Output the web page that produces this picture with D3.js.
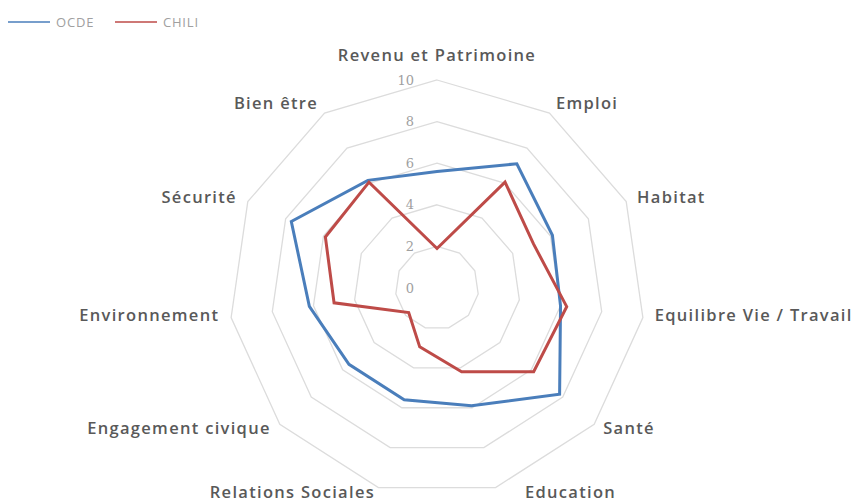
<!DOCTYPE html>
<html><head><meta charset="utf-8">
<script src="https://d3js.org/d3.v7.min.js"></script>
<style>
body{margin:0;background:#fff;}
svg{display:block;}
</style></head>
<body>
<svg id="chart" width="857" height="503"></svg>
<script>
const categories = ["Revenu et Patrimoine","Emploi","Habitat","Equilibre Vie / Travail","Santé","Education","Relations Sociales","Engagement civique","Environnement","Sécurité","Bien être"];
const ocde  = [5.6, 7.1, 6.1, 6.0, 7.8, 5.9, 5.6, 5.6, 6.2, 7.7, 6.15];
const chili = [1.9, 6.05, 5.1, 6.3, 6.15, 4.2, 2.95, 1.8, 5.0, 5.9, 6.05];
const seriesNames = ["OCDE","CHILI"];
const seriesColors = ["#4a7ebb","#be4b48"];
const ticks = [0,2,4,6,8,10];

const svg = d3.select("#chart");
const cx = 437, cy = 288, R = 208;
const n = categories.length;
const r = d3.scaleLinear().domain([0,10]).range([0,R]);
const ang = d3.scalePoint().domain(d3.range(n+1)).range([0, 2*Math.PI]);
const a = i => ang(i);

const g = svg.append("g").attr("transform",`translate(${cx},${cy})`);

// grid rings
const ring = d3.lineRadial().angle((d,i)=>a(i)).radius(d=>r(d)).curve(d3.curveLinearClosed);
ticks.filter(t=>t>0).forEach(t=>{
  g.append("path").attr("d", ring(categories.map(()=>t)))
   .attr("fill","none").attr("stroke","#dcdcdc").attr("stroke-width",1.3);
});

// tick labels
g.selectAll("text.tick").data(ticks).join("text")
  .attr("class","tick")
  .attr("x",-23).attr("y",d=>-r(d))
  .attr("text-anchor","end").attr("dominant-baseline","central")
  .attr("font-family","DejaVu Serif, serif").attr("font-size",13)
  .attr("fill","#a0a0a0").text(d=>d);

// series
const line = d3.lineRadial().angle((d,i)=>a(i)).radius(d=>r(d)).curve(d3.curveLinearClosed);
[ocde, chili].forEach((s,k)=>{
  g.append("path").attr("d", line(s)).attr("fill","none")
   .attr("stroke",seriesColors[k]).attr("stroke-width",3).attr("stroke-linejoin","miter");
});

// category labels
const LR = R + 12;
g.selectAll("text.cat").data(categories).join("text")
  .attr("class","cat")
  .each(function(d,i){
    const t = a(i), s = Math.sin(t), c = Math.cos(t);
    let x = LR*s, y = -LR*c;
    let anchor = Math.abs(s)<0.05 ? "middle" : (s>0 ? "start":"end");
    if (i===0) y -= 14;
    if (c<0) y -= 5;
    if (c<-0.9) y -= 3;
    if (c<-0.9 && s>0) x += 26;
    d3.select(this).attr("x",x).attr("y",y).attr("text-anchor",anchor);
  })
  .attr("dominant-baseline","central")
  .attr("font-family","Open Sans, sans-serif").attr("font-weight",600).attr("font-size",16.5)
  .attr("letter-spacing","1.3px")
  .attr("fill","#595959").text(d=>d);

// legend
const lg = svg.append("g").attr("transform","translate(8,22)");
seriesNames.forEach((nm,k)=>{
  const x0 = k*107;
  lg.append("line").attr("x1",x0).attr("x2",x0+42).attr("y1",0).attr("y2",0)
    .attr("stroke",seriesColors[k]).attr("stroke-width",1.5);
  lg.append("text").attr("x",x0+48).attr("y",0).attr("dominant-baseline","central")
    .attr("font-family","Open Sans, sans-serif").attr("font-size",13).attr("letter-spacing","0.8px")
    .attr("fill","#a0a0a0").text(nm);
});
</script>
</body></html>
